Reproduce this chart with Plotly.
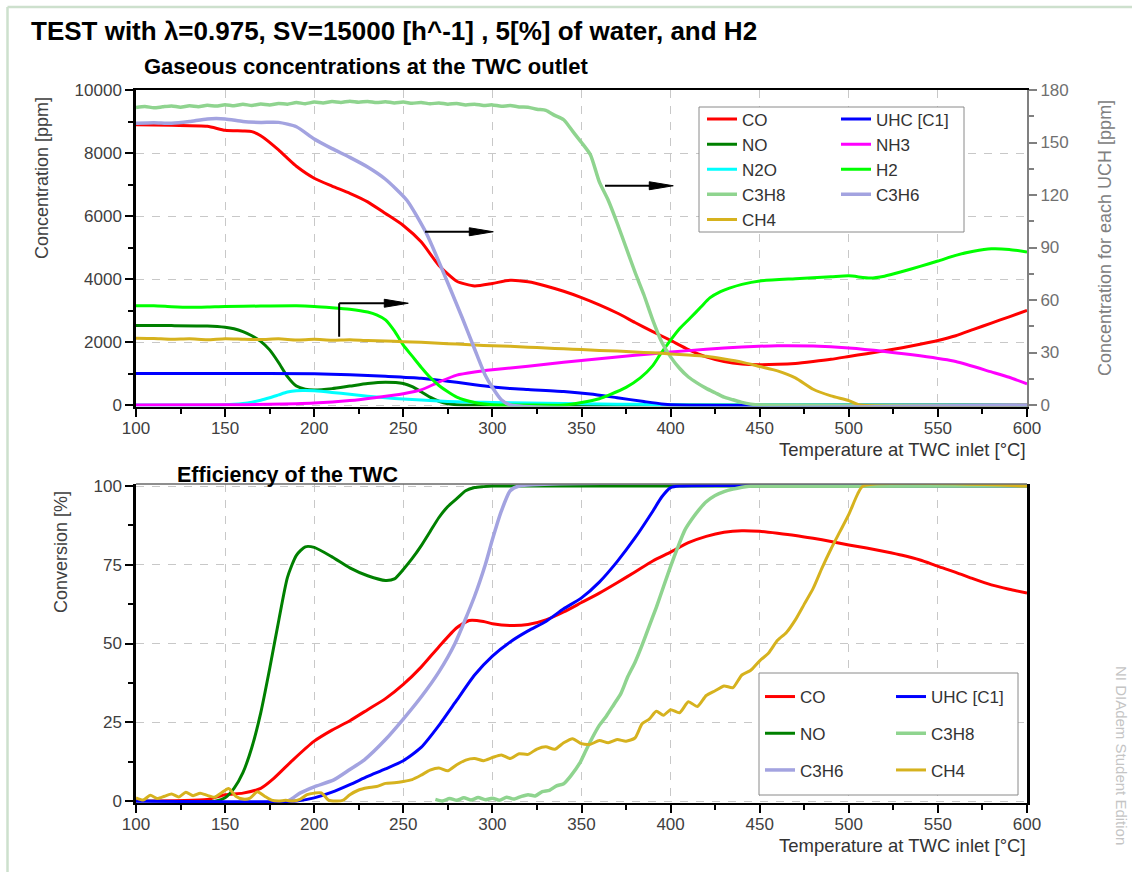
import plotly.graph_objects as go

W, H = 1132, 872

# ---------------- top panel: outlet concentrations ----------------
t_co = [100, 120, 140, 150, 160, 165, 170, 180, 186, 190, 200, 210, 220, 230, 240, 250, 260, 270, 280, 290,
        300, 310, 320, 330, 340, 350, 360, 370, 380, 390, 400, 410, 420, 430, 440, 450, 460, 470, 480, 490,
        500, 510, 520, 530, 540, 550, 560, 570, 580, 590, 600]
co_ppm = [8900, 8880, 8850, 8720, 8700, 8680, 8550, 8100, 7780, 7580, 7200, 6950, 6720, 6450, 6080, 5700, 5180, 4430, 3930, 3780,
          3860, 3960, 3910, 3780, 3610, 3410, 3180, 2920, 2620, 2330, 2050, 1760, 1530, 1380, 1300, 1280, 1290, 1320, 1380, 1450,
          1540, 1630, 1720, 1820, 1930, 2050, 2200, 2400, 2600, 2800, 3000]

t_no = [100, 120, 140, 150, 155, 160, 165, 170, 175, 180, 185, 190, 195, 200, 210, 220, 230, 240, 250, 255,
        260, 265, 270, 275, 280, 290, 300, 600]
no_ppm = [2520, 2520, 2510, 2470, 2420, 2330, 2200, 2020, 1750, 1350, 900, 600, 500, 480, 520, 600, 680, 720, 680, 580,
          420, 250, 120, 40, 10, 0, 0, 0]

t_n2o = [100, 140, 150, 155, 160, 165, 170, 175, 180, 185, 190, 195, 200, 210, 220, 230, 240, 250, 260, 270,
         280, 290, 300, 320, 340, 360, 380, 400, 420, 600]
n2o_ppm = [0, 0, 10, 25, 50, 90, 150, 230, 320, 410, 455, 460, 450, 400, 340, 280, 230, 190, 155, 125,
           100, 90, 80, 65, 50, 35, 20, 8, 0, 0]

t_nh3 = [100, 150, 175, 200, 220, 235, 250, 260, 270, 280, 290, 300, 320, 340, 360, 380, 400, 420, 440, 460,
         480, 500, 520, 540, 560, 580, 590, 600]
nh3_ppm = [0, 5, 20, 60, 140, 240, 360, 480, 730, 950, 1050, 1120, 1230, 1360, 1470, 1580, 1680, 1770, 1840, 1880,
           1870, 1810, 1700, 1560, 1380, 1050, 880, 670]

t_uhc = [100, 150, 200, 220, 240, 260, 270, 280, 290, 300, 310, 320, 340, 355, 370, 385, 395, 405, 600]
uhc_ppm = [1000, 1000, 990, 960, 910, 850, 790, 720, 640, 570, 520, 490, 430, 350, 230, 110, 35, 0, 0]

t_h2 = [100, 110, 120, 130, 140, 150, 170, 190, 200, 210, 220, 230, 235, 240, 245, 250, 255, 260, 265, 270,
        275, 280, 290, 300, 320, 340, 350, 360, 366, 375, 383, 390, 394, 400, 405, 411, 417, 422, 428, 433,
        440, 450, 470, 490, 500, 512, 520, 529, 540, 550, 560, 570, 580, 590, 600]
h2_ppm = [3150, 3150, 3120, 3100, 3110, 3130, 3140, 3150, 3130, 3090, 3040, 2950, 2860, 2700, 2350, 1900, 1550, 1200, 880, 620,
          420, 250, 80, 10, 0, 0, 80, 200, 330, 560, 860, 1250, 1590, 2060, 2420, 2760, 3110, 3400, 3600, 3710,
          3830, 3940, 4010, 4070, 4100, 4030, 4090, 4220, 4400, 4570, 4750, 4880, 4960, 4940, 4860]

# hydrocarbons on the secondary axis (ppm of each species)
t_c3h8 = [100, 105, 110, 115, 120, 125, 130, 135, 140, 145, 150, 155, 160, 165, 170, 175, 180, 185, 190, 195,
          200, 205, 210, 215, 220, 225, 230, 235, 240, 245, 250, 255, 260, 265, 270, 275, 280, 285, 290, 295,
          300, 305, 310, 315, 320, 325, 330, 335, 340, 345, 350, 355, 360, 365, 370, 375, 380, 385, 390, 395,
          400, 405, 410, 415, 420, 425, 430, 435, 440, 445, 450, 600]
c3h8_ppm = [170.0, 170.6, 169.8, 170.4, 170.9, 170.2, 171.0, 170.5, 171.3, 170.8, 171.6, 171.0, 171.8, 171.2, 172.0, 171.5, 172.3, 171.9, 172.8, 172.2,
            173.1, 172.6, 173.4, 172.9, 173.6, 173.0, 173.5, 172.8, 173.3, 172.6, 173.1, 172.4, 172.9, 172.1, 172.6, 171.9, 172.3, 171.5, 171.9, 171.2,
            171.5, 170.7, 171.1, 170.3, 170.2, 169.0, 168.4, 165.5, 163.0, 156.5, 150.0, 143.0, 127.5, 117.0, 104.0, 90.0, 76.0, 63.0, 48.5, 36.0,
            27.5, 21.0, 16.0, 12.5, 9.5, 7.0, 4.5, 3.0, 1.5, 0.5, 0.0, 0.0]

t_c3h6 = [100, 110, 120, 130, 140, 150, 160, 170, 180, 190, 200, 210, 220, 230, 240, 252, 263, 272, 283,
          290, 296, 300, 305, 310, 600]
c3h6_ppm = [161.0, 161.3, 161.0, 162.0, 163.5, 163.5, 162.0, 161.5, 161.5, 159.0, 152.0, 146.5, 141.5, 136.0, 129.0, 117.0, 98.0, 77.0, 50.0,
            32.0, 17.0, 10.0, 3.0, 0.0, 0.0]

t_ch4 = [100, 110, 120, 130, 140, 150, 160, 170, 180, 190, 200, 210, 220, 230, 240, 250, 260, 270, 280, 290,
         300, 310, 320, 330, 340, 350, 360, 370, 380, 390, 400, 410, 420, 430, 440, 450, 460, 470, 480, 490,
         500, 506, 600]
ch4_ppm = [38.2, 38.0, 37.5, 37.8, 37.3, 37.9, 37.6, 37.4, 37.8, 37.2, 37.5, 37.0, 37.3, 36.8, 36.6, 36.2, 35.9, 35.3, 34.8, 34.3,
           33.8, 33.5, 33.0, 32.6, 32.1, 31.7, 31.2, 30.8, 30.3, 29.8, 29.2, 28.6, 27.8, 26.3, 24.5, 22.0, 19.5, 15.5, 9.0, 5.2,
           2.5, 0.0, 0.0]

# ---------------- bottom panel: conversion efficiency ----------------
t_co_x = [100, 140, 150, 160, 170, 177, 188, 200, 210, 220, 230, 240, 250, 260, 270, 280, 287, 295, 300, 310,
          320, 330, 340, 350, 360, 370, 380, 390, 400, 410, 420, 430, 440, 450, 460, 470, 480, 490, 500, 510,
          520, 530, 540, 550, 560, 570, 580, 590, 600]
co_conv = [0, 0.5, 2, 2.5, 4, 7, 13, 19, 22.5, 25.5, 29, 32.5, 37, 42.5, 49, 55, 57.3, 57, 56.3, 55.7,
           56, 57.5, 60, 63, 66, 69.3, 72.7, 76.2, 79, 82, 84, 85.3, 85.8, 85.6, 85, 84.3, 83.4, 82.4, 81.3, 80.3,
           79.2, 78, 76.5, 74.5, 72.6, 70.5, 68.6, 67.2, 66]

t_no_x = [100, 145, 150, 155, 160, 165, 170, 175, 180, 185, 190, 195, 200, 210, 220, 230, 240, 245, 250, 255,
          260, 265, 270, 275, 280, 285, 290, 295, 300, 600]
no_conv = [0, 0, 1, 4, 9, 17, 28, 42, 57, 71, 78, 80.7, 80.5, 77.5, 74, 71.5, 70, 70.5, 73.5, 77,
           81, 85.5, 90, 93.5, 96, 98.5, 99.5, 99.8, 100, 100]

t_uhc_x = [100, 190, 200, 210, 220, 230, 240, 250, 260, 270, 280, 290, 300, 310, 320, 330, 340, 350, 360, 370,
           380, 390, 395, 400, 405, 600]
uhc_conv = [0, 0, 1, 2.8, 5.2, 7.8, 10.2, 12.8, 17, 24, 32, 40, 46, 50.5, 54, 57, 61, 64.5, 69.5, 76,
            83.5, 92, 96.5, 99.5, 100, 100]

t_c3h6_x = [100, 185, 192, 200, 211, 220, 228, 240, 250, 260, 270, 279, 290, 296, 300, 305, 310, 315, 600]
c3h6_conv = [0, 0, 2.5, 4.5, 6.7, 10, 13, 19.5, 26, 33, 41, 50, 65, 75, 83, 92, 98.5, 100, 100]

t_c3h8_x = [268, 272, 276, 280, 284, 288, 292, 296, 300, 304, 308, 312, 316, 320, 324, 328, 332, 336, 340, 344,
            349, 352, 356, 360, 364, 368, 372, 376, 380, 384, 388, 392, 396, 400, 404, 408, 412, 416, 420, 425,
            430, 435, 440, 445, 450, 600]
c3h8_conv = [0.5, 0, 0.8, 0.2, 1.0, 0.3, 1.1, 0.4, 0.9, 0.2, 1.2, 0.6, 1.4, 2.0, 1.6, 3.0, 3.4, 4.8, 5.5, 8.0,
             12.0, 15.5, 20.0, 24.0, 27.0, 30.5, 34.0, 39.5, 44.0, 49.5, 55.5, 61.5, 68.0, 74.5, 80.5, 86.0, 89.5, 92.5, 95.0, 97.0,
             98.2, 99.0, 99.6, 100, 100, 100]

t_ch4_x = [100, 104, 108, 112, 116, 120, 124, 128, 132, 136, 140, 144, 148, 152, 156, 160, 164, 168, 172, 176,
           180, 184, 188, 192, 196, 200, 204, 208, 212, 216, 220, 225, 230, 235, 240, 245, 250, 255, 260, 265,
           270, 275, 280, 285, 290, 295, 300, 305, 310, 315, 320, 325, 330, 335, 340, 345, 350, 355, 360, 365,
           370, 375, 380, 384, 388, 392, 396, 400, 405, 410, 415, 420, 425, 430, 435, 440, 445, 450, 455, 460,
           465, 470, 475, 480, 485, 490, 495, 500, 505, 508, 600]
ch4_conv = [1.0, 0.3, 1.8, 0.8, 1.5, 2.2, 1.3, 2.8, 1.7, 2.5, 1.8, 1.2, 2.6, 4.0, 1.5, 0.6, 0.9, 2.9, 1.6, 0.3,
            0, 0.2, 0, 0.5, 2.0, 2.5, 2.6, 0.3, 0, 0.2, 2.0, 3.5, 4.2, 4.6, 5.6, 5.8, 6.2, 6.8, 8.2, 9.8,
            10.5, 9.6, 11.5, 13.0, 13.5, 12.8, 13.8, 14.6, 13.5, 15.0, 14.8, 16.5, 17.2, 16.4, 18.5, 19.8, 18.2, 18.0, 19.2, 18.5,
            19.5, 19.0, 20.0, 24.5, 26.0, 28.5, 27.2, 29.0, 28.0, 31.5, 30.0, 33.5, 35.0, 36.5, 36.0, 40.0, 41.5, 44.5, 47.0, 51.0,
            53.5, 57.5, 62.5, 67.5, 74.0, 80.0, 85.5, 91.0, 97.5, 100, 100]

x_ticks = [100, 150, 200, 250, 300, 350, 400, 450, 500, 550, 600]

COL = {
    "CO": "#ff0000", "NO": "#008000", "N2O": "#00ffff", "UHC [C1]": "#0000ff",
    "NH3": "#ff00ff", "H2": "#00ff00", "C3H8": "#8fd48f", "C3H6": "#a3a3e0", "CH4": "#d6b21e",
}

FONT = "Liberation Sans, Arial, sans-serif"


def px_x(p):
    return p / W


def px_y(p):
    return 1 - p / H


# pixel frame of the two panels
PX_L, PX_R = 136, 1027
TOP_T, TOP_0 = 90, 405
BOT_T, BOT_0 = 486, 801

top_range = [-50, 10000]
top_scale = (TOP_0 - TOP_T) / top_range[1]
top_dom = [px_y(TOP_0 - top_range[0] * top_scale), px_y(TOP_T)]
uch_range = [top_range[0] * 180 / top_range[1], 180]

bot_range = [-0.6, 100.6]
bot_scale = (BOT_0 - BOT_T) / 100
bot_dom = [px_y(BOT_0 - bot_range[0] * bot_scale), px_y(BOT_0 - bot_range[1] * bot_scale)]

fig = go.Figure()


def add(x, y, name, xa, ya, legend, w=3):
    fig.add_trace(go.Scatter(
        x=x, y=y, name=name, mode="lines", xaxis=xa, yaxis=ya,
        line=dict(color=COL[name], width=w, shape="spline", smoothing=0.6),
        legend=legend, legendgroup=legend + name, hoverinfo="skip"))


# top panel, primary axis
add(t_co, co_ppm, "CO", "x", "y", "legend")
add(t_no, no_ppm, "NO", "x", "y", "legend")
add(t_n2o, n2o_ppm, "N2O", "x", "y", "legend")
add(t_uhc, uhc_ppm, "UHC [C1]", "x", "y", "legend2")
add(t_nh3, nh3_ppm, "NH3", "x", "y", "legend2")
add(t_h2, h2_ppm, "H2", "x", "y", "legend2")
# top panel, secondary axis
add(t_c3h8, c3h8_ppm, "C3H8", "x", "y2", "legend", 3.5)
add(t_ch4, ch4_ppm, "CH4", "x", "y2", "legend")
add(t_c3h6, c3h6_ppm, "C3H6", "x", "y2", "legend2", 3.5)

# bottom panel
add(t_co_x, co_conv, "CO", "x2", "y3", "legend3")
add(t_no_x, no_conv, "NO", "x2", "y3", "legend3")
add(t_c3h6_x, c3h6_conv, "C3H6", "x2", "y3", "legend3", 3.5)
add(t_uhc_x, uhc_conv, "UHC [C1]", "x2", "y3", "legend4")
add(t_c3h8_x, c3h8_conv, "C3H8", "x2", "y3", "legend4", 3.5)
add(t_ch4_x, ch4_conv, "CH4", "x2", "y3", "legend4")

# legend column order: CO/NO/N2O/C3H8/CH4
order_top1 = ["CO", "NO", "N2O", "C3H8", "CH4"]
for tr in fig.data:
    if tr.legend == "legend":
        tr.legendrank = order_top1.index(tr.name) + 1

TICKFONT = dict(family=FONT, size=17, color="#404040")
GRID = dict(showgrid=True, gridcolor="#c8c8c8", gridwidth=1, griddash="8px,8px")

xcommon = dict(range=[100, 600], tickvals=x_ticks, ticks="outside", ticklen=8, tickwidth=1.5,
               tickcolor="#000", showline=True, linecolor="#000", linewidth=2, zeroline=False,
               automargin=False, tickfont=TICKFONT, ticklabelstandoff=-3,
               minor=dict(dtick=25, tick0=100, ticks="outside", ticklen=5,
                          tickcolor="#000", showgrid=False), **GRID)

fig.update_layout(
    template="none",
    width=W, height=H, margin=dict(l=0, r=0, t=0, b=0, pad=0, autoexpand=False),
    paper_bgcolor="white", plot_bgcolor="white",
    font=dict(family=FONT, color="#333"),
    xaxis=dict(domain=[px_x(PX_L), px_x(PX_R)], anchor="y", mirror=True, **xcommon),
    yaxis=dict(domain=top_dom, range=top_range, dtick=2000, tick0=0, tickformat="d",
               ticks="outside", ticklen=8, tickwidth=1.5, tickcolor="#000", automargin=False,
               showline=True, linecolor="#000", linewidth=2.5, zeroline=False, tickfont=TICKFONT,
               minor=dict(dtick=1000, tick0=0, ticks="outside", ticklen=5, tickcolor="#000", showgrid=False),
               **GRID),
    yaxis2=dict(overlaying="y", side="right", anchor="x", range=uch_range, dtick=30, tick0=0,
                ticks="outside", ticklen=8, tickwidth=1.5, tickcolor="#808080", showgrid=False,
                showline=True, linecolor="#808080", linewidth=2, zeroline=False, automargin=False,
                tickfont=dict(family=FONT, size=17, color="#707070"),
                minor=dict(dtick=15, tick0=0, ticks="outside", ticklen=5, tickcolor="#808080")),
    xaxis2=dict(domain=[px_x(PX_L), px_x(PX_R)], anchor="y3", **xcommon),
    yaxis3=dict(domain=bot_dom, range=bot_range, dtick=25, tick0=0, tickformat="d",
                ticks="outside", ticklen=8, tickwidth=1.5, tickcolor="#000", automargin=False,
                showline=True, linecolor="#000", linewidth=2.5, mirror=True, zeroline=False,
                tickfont=TICKFONT,
                minor=dict(dtick=12.5, tick0=0, ticks="outside", ticklen=5, tickcolor="#000", showgrid=False),
                **GRID),
    showlegend=True,
)

LEG = dict(xanchor="left", yanchor="top", bgcolor="rgba(0,0,0,0)", borderwidth=0,
           font=dict(family=FONT, size=17, color="#333"), itemwidth=30, orientation="v")
fig.update_layout(
    legend=dict(x=px_x(702), y=px_y(101.5), tracegroupgap=0, **LEG),
    legend2=dict(x=px_x(836), y=px_y(101.5), tracegroupgap=0, **LEG),
    legend3=dict(x=px_x(760), y=px_y(679), tracegroupgap=11.6, **LEG),
    legend4=dict(x=px_x(891), y=px_y(679), tracegroupgap=11.6, **LEG),
)

shapes = []
# outer page frame
shapes.append(dict(type="line", xref="paper", yref="paper", x0=px_x(7.5), x1=px_x(7.5), y0=0, y1=px_y(7),
                   line=dict(color="#cde0cd", width=2.5)))
shapes.append(dict(type="line", xref="paper", yref="paper", x0=px_x(7.5), x1=1, y0=px_y(7), y1=px_y(7),
                   line=dict(color="#cde0cd", width=2.5)))
# upper border of the efficiency panel
shapes.append(dict(type="line", xref="x2 domain", yref="y3 domain", x0=0, x1=1, y0=1, y1=1,
                   line=dict(color="#6a6a6a", width=1.5), layer="above"))
# legend frames
for (x0, y0, x1, y1) in [(699, 107, 964, 232), (759, 673, 1018, 795)]:
    shapes.append(dict(type="rect", xref="paper", yref="paper", x0=px_x(x0), x1=px_x(x1),
                       y0=px_y(y1), y1=px_y(y0), line=dict(color="#8a8a8a", width=1),
                       fillcolor="white", layer="above"))

# arrows pointing at the secondary axis
arrow_line = dict(color="#000", width=2)
shapes.append(dict(type="line", xref="x", yref="y", x0=214, x1=214, y0=2170, y1=3230, line=arrow_line))
for (xs, xe, yv) in [(214, 252.8, 3230), (262.2, 300.5, 5500), (363.2, 401.5, 6960)]:
    shapes.append(dict(type="line", xref="x", yref="y", x0=xs, x1=xe - 8, y0=yv, y1=yv, line=arrow_line))
    shapes.append(dict(type="path", xref="x", yref="y", xsizemode="pixel", ysizemode="pixel",
                       xanchor=xe, yanchor=yv, path="M0,0 L-24,-4 L-24,4 Z",
                       fillcolor="#000", line=dict(color="#000", width=1)))
fig.update_layout(shapes=shapes)

ann = []


def text(x, y, s, size, color="#333", bold=False, xanchor="left", angle=0):
    ann.append(dict(x=px_x(x), y=px_y(y), xref="paper", yref="paper", text=f"<b>{s}</b>" if bold else s,
                    showarrow=False, xanchor=xanchor, yanchor="middle", textangle=angle,
                    font=dict(family=FONT, size=size, color=color)))


text(29, 31, "TEST with λ=0.975, SV=15000 [h^-1] , 5[%] of water, and H2", 26, "#000", True)
text(142, 66, "Gaseous concentrations at the TWC outlet", 22, "#000", True)
text(175, 475, "Efficiency of the TWC", 21.5, "#000", True)
text(42, 178, "Concentration [ppm]", 18, "#404040", xanchor="center", angle=-90)
text(1105, 238, "Concentration for each UCH [ppm]", 18, "#808080", xanchor="center", angle=-90)
text(61, 552, "Conversion [%]", 18, "#404040", xanchor="center", angle=-90)
text(1028, 450, "Temperature at TWC inlet [°C]", 18.5, "#333", xanchor="right")
text(1028, 845, "Temperature at TWC inlet [°C]", 18.5, "#333", xanchor="right")
text(1122, 755, "NI DIAdem Student Edition", 15, "#c4c4c4", xanchor="center", angle=90)
fig.update_layout(annotations=ann)

fig.write_html("out.html")
